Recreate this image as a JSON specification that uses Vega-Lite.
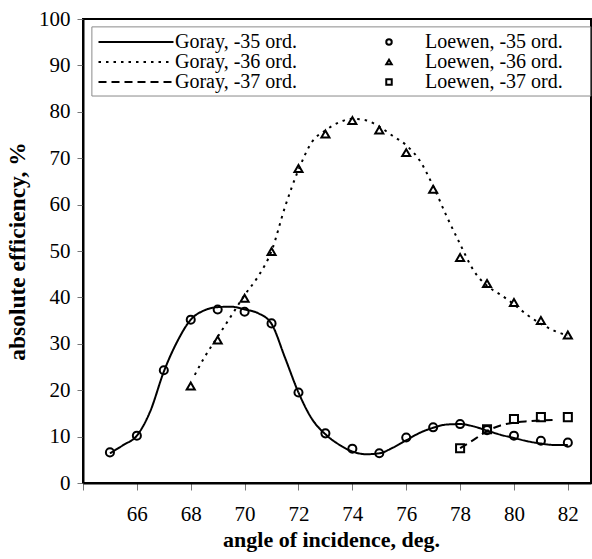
{
  "$schema": "https://vega.github.io/schema/vega-lite/v6.json",
  "width": 508,
  "height": 464,
  "autosize": {"type": "none"},
  "padding": {"left": 83, "top": 19, "right": 1, "bottom": 76},
  "background": "white",
  "config": {
    "font": "Liberation Serif",
    "view": {"stroke": "black", "strokeWidth": 2},
    "axis": {
      "grid": false,
      "domainColor": "black",
      "domainWidth": 2,
      "tickColor": "#777",
      "tickWidth": 1,
      "labelFont": "Liberation Serif",
      "labelFontSize": 21,
      "labelColor": "black",
      "titleFont": "Liberation Serif",
      "titleFontSize": 22,
      "titleFontWeight": "bold",
      "titleColor": "black"
    },
    "legend": {"padding": 0}
  },
  "datasets": {
    "curves": [
      {"series": "Goray, -35 ord.", "angle": 65, "eff": 6.4},
      {"series": "Goray, -35 ord.", "angle": 65.5, "eff": 8.2},
      {"series": "Goray, -35 ord.", "angle": 66, "eff": 10.2},
      {"series": "Goray, -35 ord.", "angle": 66.5, "eff": 15.5},
      {"series": "Goray, -35 ord.", "angle": 67, "eff": 24},
      {"series": "Goray, -35 ord.", "angle": 67.5, "eff": 30.5},
      {"series": "Goray, -35 ord.", "angle": 68, "eff": 35.2},
      {"series": "Goray, -35 ord.", "angle": 68.5, "eff": 37.2},
      {"series": "Goray, -35 ord.", "angle": 69, "eff": 37.9},
      {"series": "Goray, -35 ord.", "angle": 69.5, "eff": 38},
      {"series": "Goray, -35 ord.", "angle": 70, "eff": 37.4},
      {"series": "Goray, -35 ord.", "angle": 70.5, "eff": 36.6},
      {"series": "Goray, -35 ord.", "angle": 71, "eff": 34.3},
      {"series": "Goray, -35 ord.", "angle": 71.5, "eff": 27},
      {"series": "Goray, -35 ord.", "angle": 72, "eff": 19.5},
      {"series": "Goray, -35 ord.", "angle": 72.5, "eff": 13.8},
      {"series": "Goray, -35 ord.", "angle": 73, "eff": 10.5},
      {"series": "Goray, -35 ord.", "angle": 73.5, "eff": 8.3},
      {"series": "Goray, -35 ord.", "angle": 74, "eff": 6.8},
      {"series": "Goray, -35 ord.", "angle": 74.5, "eff": 6.2},
      {"series": "Goray, -35 ord.", "angle": 75, "eff": 6.4},
      {"series": "Goray, -35 ord.", "angle": 75.5, "eff": 7.6},
      {"series": "Goray, -35 ord.", "angle": 76, "eff": 9.2},
      {"series": "Goray, -35 ord.", "angle": 76.5, "eff": 10.8},
      {"series": "Goray, -35 ord.", "angle": 77, "eff": 11.9},
      {"series": "Goray, -35 ord.", "angle": 77.5, "eff": 12.6},
      {"series": "Goray, -35 ord.", "angle": 78, "eff": 12.7},
      {"series": "Goray, -35 ord.", "angle": 78.5, "eff": 12.2},
      {"series": "Goray, -35 ord.", "angle": 79, "eff": 11.3},
      {"series": "Goray, -35 ord.", "angle": 79.5, "eff": 10.4},
      {"series": "Goray, -35 ord.", "angle": 80, "eff": 9.7},
      {"series": "Goray, -35 ord.", "angle": 80.5, "eff": 9.0},
      {"series": "Goray, -35 ord.", "angle": 81, "eff": 8.5},
      {"series": "Goray, -35 ord.", "angle": 81.5, "eff": 8.2},
      {"series": "Goray, -35 ord.", "angle": 82, "eff": 8.2},
      {"series": "Goray, -36 ord.", "angle": 68.15, "eff": 23.3},
      {"series": "Goray, -36 ord.", "angle": 68.5, "eff": 27},
      {"series": "Goray, -36 ord.", "angle": 69, "eff": 31.5},
      {"series": "Goray, -36 ord.", "angle": 69.5, "eff": 36},
      {"series": "Goray, -36 ord.", "angle": 70, "eff": 40.5},
      {"series": "Goray, -36 ord.", "angle": 70.5, "eff": 44.5},
      {"series": "Goray, -36 ord.", "angle": 71, "eff": 50},
      {"series": "Goray, -36 ord.", "angle": 71.5, "eff": 59.5},
      {"series": "Goray, -36 ord.", "angle": 72, "eff": 67.5},
      {"series": "Goray, -36 ord.", "angle": 72.5, "eff": 73.5},
      {"series": "Goray, -36 ord.", "angle": 73, "eff": 76},
      {"series": "Goray, -36 ord.", "angle": 73.5, "eff": 77.7},
      {"series": "Goray, -36 ord.", "angle": 74, "eff": 78.5},
      {"series": "Goray, -36 ord.", "angle": 74.5, "eff": 78.2},
      {"series": "Goray, -36 ord.", "angle": 75, "eff": 76.8},
      {"series": "Goray, -36 ord.", "angle": 75.5, "eff": 74.8},
      {"series": "Goray, -36 ord.", "angle": 76, "eff": 72.8},
      {"series": "Goray, -36 ord.", "angle": 76.5, "eff": 69.5},
      {"series": "Goray, -36 ord.", "angle": 77, "eff": 64},
      {"series": "Goray, -36 ord.", "angle": 77.5, "eff": 57.5},
      {"series": "Goray, -36 ord.", "angle": 78, "eff": 51.5},
      {"series": "Goray, -36 ord.", "angle": 78.5, "eff": 45.8},
      {"series": "Goray, -36 ord.", "angle": 79, "eff": 42.5},
      {"series": "Goray, -36 ord.", "angle": 79.5, "eff": 40.6},
      {"series": "Goray, -36 ord.", "angle": 80, "eff": 38.5},
      {"series": "Goray, -36 ord.", "angle": 80.5, "eff": 36.2},
      {"series": "Goray, -36 ord.", "angle": 81, "eff": 34.3},
      {"series": "Goray, -36 ord.", "angle": 81.5, "eff": 32.8},
      {"series": "Goray, -36 ord.", "angle": 82, "eff": 31.8},
      {"series": "Goray, -37 ord.", "angle": 78, "eff": 7.5},
      {"series": "Goray, -37 ord.", "angle": 78.5, "eff": 9.3},
      {"series": "Goray, -37 ord.", "angle": 79, "eff": 11.2},
      {"series": "Goray, -37 ord.", "angle": 79.5, "eff": 12.4},
      {"series": "Goray, -37 ord.", "angle": 80, "eff": 13.0},
      {"series": "Goray, -37 ord.", "angle": 80.5, "eff": 13.3},
      {"series": "Goray, -37 ord.", "angle": 81, "eff": 13.5},
      {"series": "Goray, -37 ord.", "angle": 81.5, "eff": 13.6}
    ],
    "points": [
      {"series": "Loewen, -35 ord.", "angle": 65, "eff": 6.6},
      {"series": "Loewen, -35 ord.", "angle": 66, "eff": 10.2},
      {"series": "Loewen, -35 ord.", "angle": 67, "eff": 24.3},
      {"series": "Loewen, -35 ord.", "angle": 68, "eff": 35.2},
      {"series": "Loewen, -35 ord.", "angle": 69, "eff": 37.4},
      {"series": "Loewen, -35 ord.", "angle": 70, "eff": 36.9},
      {"series": "Loewen, -35 ord.", "angle": 71, "eff": 34.4},
      {"series": "Loewen, -35 ord.", "angle": 72, "eff": 19.5},
      {"series": "Loewen, -35 ord.", "angle": 73, "eff": 10.7},
      {"series": "Loewen, -35 ord.", "angle": 74, "eff": 7.4},
      {"series": "Loewen, -35 ord.", "angle": 75, "eff": 6.4},
      {"series": "Loewen, -35 ord.", "angle": 76, "eff": 9.8},
      {"series": "Loewen, -35 ord.", "angle": 77, "eff": 12.0},
      {"series": "Loewen, -35 ord.", "angle": 78, "eff": 12.7},
      {"series": "Loewen, -35 ord.", "angle": 79, "eff": 11.4},
      {"series": "Loewen, -35 ord.", "angle": 80, "eff": 10.2},
      {"series": "Loewen, -35 ord.", "angle": 81, "eff": 9.1},
      {"series": "Loewen, -35 ord.", "angle": 82, "eff": 8.7},
      {"series": "Loewen, -36 ord.", "angle": 68, "eff": 20.9},
      {"series": "Loewen, -36 ord.", "angle": 69, "eff": 30.8},
      {"series": "Loewen, -36 ord.", "angle": 70, "eff": 39.8},
      {"series": "Loewen, -36 ord.", "angle": 71, "eff": 49.9},
      {"series": "Loewen, -36 ord.", "angle": 72, "eff": 67.8},
      {"series": "Loewen, -36 ord.", "angle": 73, "eff": 75.2},
      {"series": "Loewen, -36 ord.", "angle": 74, "eff": 78.1},
      {"series": "Loewen, -36 ord.", "angle": 75, "eff": 76.1},
      {"series": "Loewen, -36 ord.", "angle": 76, "eff": 71.2},
      {"series": "Loewen, -36 ord.", "angle": 77, "eff": 63.3},
      {"series": "Loewen, -36 ord.", "angle": 78, "eff": 48.6},
      {"series": "Loewen, -36 ord.", "angle": 79, "eff": 43.0},
      {"series": "Loewen, -36 ord.", "angle": 80, "eff": 38.9},
      {"series": "Loewen, -36 ord.", "angle": 81, "eff": 35.0},
      {"series": "Loewen, -36 ord.", "angle": 82, "eff": 31.9},
      {"series": "Loewen, -37 ord.", "angle": 78, "eff": 7.5},
      {"series": "Loewen, -37 ord.", "angle": 79, "eff": 11.6},
      {"series": "Loewen, -37 ord.", "angle": 80, "eff": 13.8},
      {"series": "Loewen, -37 ord.", "angle": 81, "eff": 14.2},
      {"series": "Loewen, -37 ord.", "angle": 82, "eff": 14.2}
    ]
  },
  "layer": [
    {
      "data": {"values": [{"frame": "legend"}]},
      "mark": {"type": "rect", "fill": "transparent", "stroke": "#8a8a8a", "strokeWidth": 1, "opacity": 1},
      "encoding": {
        "x": {"datum": 64.33, "type": "quantitative"},
        "x2": {"datum": 82.85},
        "y": {"datum": 98.3, "type": "quantitative"},
        "y2": {"datum": 83.4}
      }
    },
    {
      "data": {"name": "curves"},
      "mark": {"type": "line", "interpolate": "monotone", "color": "black", "strokeWidth": 2},
      "encoding": {
        "x": {
          "field": "angle", "type": "quantitative",
          "scale": {"domain": [64, 82.86], "nice": false, "zero": false},
          "axis": {
            "title": "angle of incidence, deg.",
            "titleX": 248,
            "values": [64, 65, 66, 67, 68, 69, 70, 71, 72, 73, 74, 75, 76, 77, 78, 79, 80, 81, 82],
            "labelExpr": "datum.value % 2 == 0 && datum.value >= 66 ? datum.label : ''",
            "tickSize": 7,
            "labelPadding": 13,
            "titlePadding": 5,
            "labelFlush": false
          }
        },
        "y": {
          "field": "eff", "type": "quantitative",
          "scale": {"domain": [0, 100], "nice": false},
          "axis": {
            "title": "absolute efficiency, %",
            "titleFontSize": 23.5,
            "values": [0, 10, 20, 30, 40, 50, 60, 70, 80, 90, 100],
            "tickSize": 6,
            "labelPadding": 7,
            "titlePadding": 9,
            "labelFlush": false
          }
        },
        "strokeDash": {
          "field": "series", "type": "nominal",
          "scale": {
            "domain": ["Goray, -35 ord.", "Goray, -36 ord.", "Goray, -37 ord."],
            "range": [[1, 0], [2.5, 5], [8, 5]]
          },
          "legend": {
            "orient": "none", "legendX": 43, "legendY": 13,
            "title": null,
            "symbolType": "M-7.5,0H7.5",
            "symbolSize": 100,
            "symbolStrokeColor": "black",
            "symbolStrokeWidth": 2,
            "symbolOpacity": 1,
            "labelFontSize": 20,
            "labelFont": "Liberation Serif",
            "labelColor": "black",
            "labelOffset": 29,
            "rowPadding": -2,
            "padding": 0
          }
        }
      }
    },
    {
      "data": {"name": "points"},
      "mark": {"type": "point", "filled": false, "color": "black", "strokeWidth": 2, "size": 65, "opacity": 1},
      "encoding": {
        "x": {"field": "angle", "type": "quantitative"},
        "y": {"field": "eff", "type": "quantitative"},
        "shape": {
          "field": "series", "type": "nominal",
          "scale": {
            "domain": ["Loewen, -35 ord.", "Loewen, -36 ord.", "Loewen, -37 ord."],
            "range": ["circle", "triangle-up", "square"]
          },
          "legend": {
            "orient": "none", "legendX": 296, "legendY": 13,
            "title": null,
            "symbolSize": 30,
            "symbolStrokeColor": "black",
            "symbolStrokeWidth": 2,
            "symbolFillColor": "white",
            "symbolOpacity": 1,
            "labelFontSize": 20,
            "labelFont": "Liberation Serif",
            "labelColor": "black",
            "labelOffset": 26,
            "rowPadding": -2,
            "padding": 0
          }
        }
      }
    }
  ]
}
